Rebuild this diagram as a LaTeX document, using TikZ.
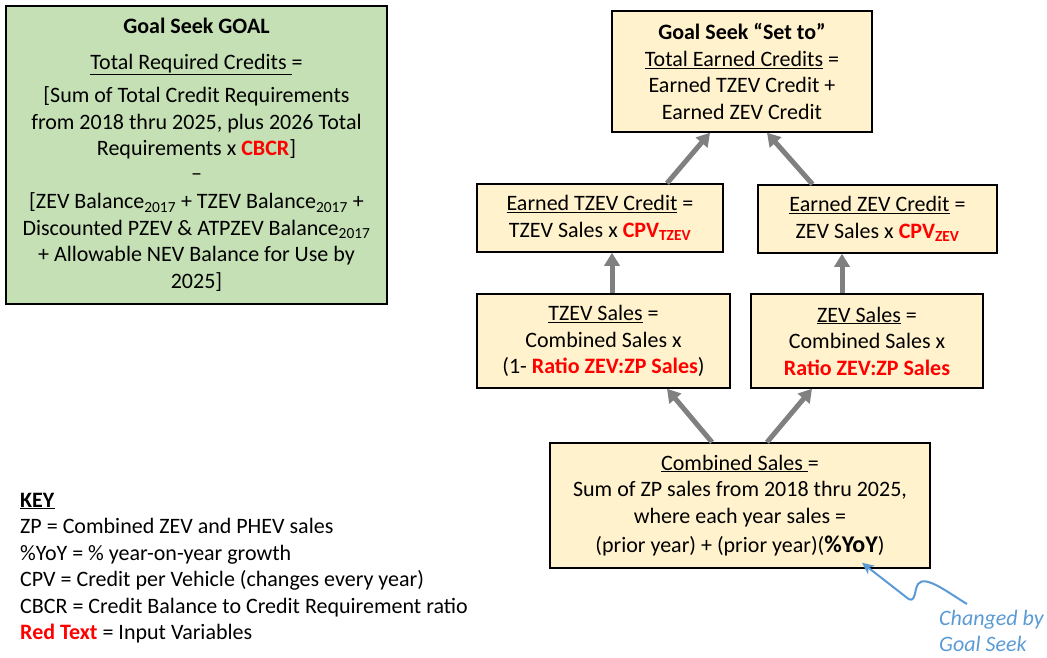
\documentclass[tikz,border=0pt]{standalone}
\usepackage{fontspec}
\setmainfont{Carlito}
\usepackage{tikz}
\usetikzlibrary{arrows.meta}
\definecolor{sheetgreen}{HTML}{C5E0B4}
\definecolor{sheetcream}{HTML}{FFF2CC}
\definecolor{flowgrey}{HTML}{808080}
\definecolor{inputred}{HTML}{FF0000}
\definecolor{seekblue}{HTML}{5B9BD5}
\newcommand{\inp}[1]{\textcolor{inputred}{\textbf{#1}}}

\begin{document}
\begin{tikzpicture}[x=1pt,y=-1pt,
    every node/.style={font=\fontsize{22}{26.5}\selectfont},
    calc/.style={draw,line width=1.5pt,fill=sheetcream,align=center,inner sep=0pt},
    feed/.style={draw=flowgrey,line width=5pt,-{Triangle[length=13pt,width=15pt]}},
    nudge/.style={draw=seekblue,line width=2pt,-{Stealth[length=12pt,width=11pt]}}]
    \useasboundingbox (0,0) rectangle (1047,658);
    \node[calc,fill=sheetgreen,minimum width=381pt,minimum height=298pt] (goal) at (196.5,155) {\textbf{Goal Seek GOAL}\\[9pt]
        \underline{Total Required Credits\ }=\\[7pt]
        {[}Sum of Total Credit Requirements\\
        from 2018 thru 2025, plus 2026 Total\\
        Requirements x \inp{CBCR}]\\[-2pt]
        --\\[2pt]
        {[}ZEV Balance\textsubscript{2017} + TZEV Balance\textsubscript{2017} +\\
        Discounted PZEV \& ATPZEV Balance\textsubscript{2017}\\
        + Allowable NEV Balance for Use by\\
        2025]};
    \node[calc,minimum width=260pt,minimum height=121pt] (setto) at (742,71.5) {\textbf{Goal Seek “Set to”}\\
        \underline{Total Earned Credits} =\\
        Earned TZEV Credit +\\
        Earned ZEV Credit};
    \node[calc,minimum width=246pt,minimum height=68pt] (tzevcr) at (600,218) {\underline{Earned TZEV Credit} =\\
        TZEV Sales x \inp{CPV\textsubscript{TZEV}}};
    \node[calc,minimum width=239pt,minimum height=68pt] (zevcr) at (877.5,219) {\underline{Earned ZEV Credit} =\\
        ZEV Sales x \inp{CPV\textsubscript{ZEV}}};
    \node[calc,minimum width=253pt,minimum height=94pt] (tzevs) at (603.5,341) {\underline{TZEV Sales} =\\
        Combined Sales x\\
        (1- \inp{Ratio ZEV:ZP Sales})};
    \node[calc,minimum width=232pt,minimum height=94pt] (zevs) at (867,341) {\underline{ZEV Sales} =\\
        Combined Sales x\\
        \inp{Ratio ZEV:ZP Sales}};
    \node[calc,minimum width=380pt,minimum height=125pt] (comb) at (740,505.5) {\underline{Combined Sales\ }=\\
        Sum of ZP sales from 2018 thru 2025,\\
        where each year sales =\\[3pt]
        (prior year) + (prior year)({\fontsize{24}{26.5}\selectfont\textbf{\%YoY}})};
    \draw[feed] ([xshift=67pt]tzevcr.north) -- ([xshift=-32pt]setto.south);
    \draw[feed] ([xshift=-65pt]zevcr.north) -- ([xshift=25pt]setto.south);
    \draw[feed] ([xshift=8.5pt]tzevs.north) -- ([xshift=12pt]tzevcr.south);
    \draw[feed] ([xshift=-25pt]zevs.north) -- ([xshift=-35.5pt]zevcr.south);
    \draw[feed] ([xshift=-28pt]comb.north) -- ([xshift=63.5pt]tzevs.south);
    \draw[feed] ([xshift=27pt]comb.north) -- ([xshift=-55pt]zevs.south);
    \node[anchor=west,align=left,inner sep=0pt] (key) at (20,568) {\underline{\textbf{KEY}}\\
        ZP = Combined ZEV and PHEV sales\\
        \%YoY = \% year-on-year growth\\
        CPV = Credit per Vehicle (changes every year)\\
        CBCR = Credit Balance to Credit Requirement ratio\\
        \inp{Red Text} = Input Variables};
    \node[anchor=west,align=left,inner sep=0pt,text=seekblue,font=\fontsize{22}{26.5}\selectfont\itshape] (gs) at (939,631) {Changed by\\
        Goal Seek};
    \coordinate (gsfrom) at (967,604);
    \draw[nudge] (gsfrom) .. controls (950,594) and (925,574) .. (918,584) .. controls (914,590) and (916,606) .. (906,597) -- ([xshift=122pt,yshift=6pt]comb.south);
\end{tikzpicture}
\end{document}
